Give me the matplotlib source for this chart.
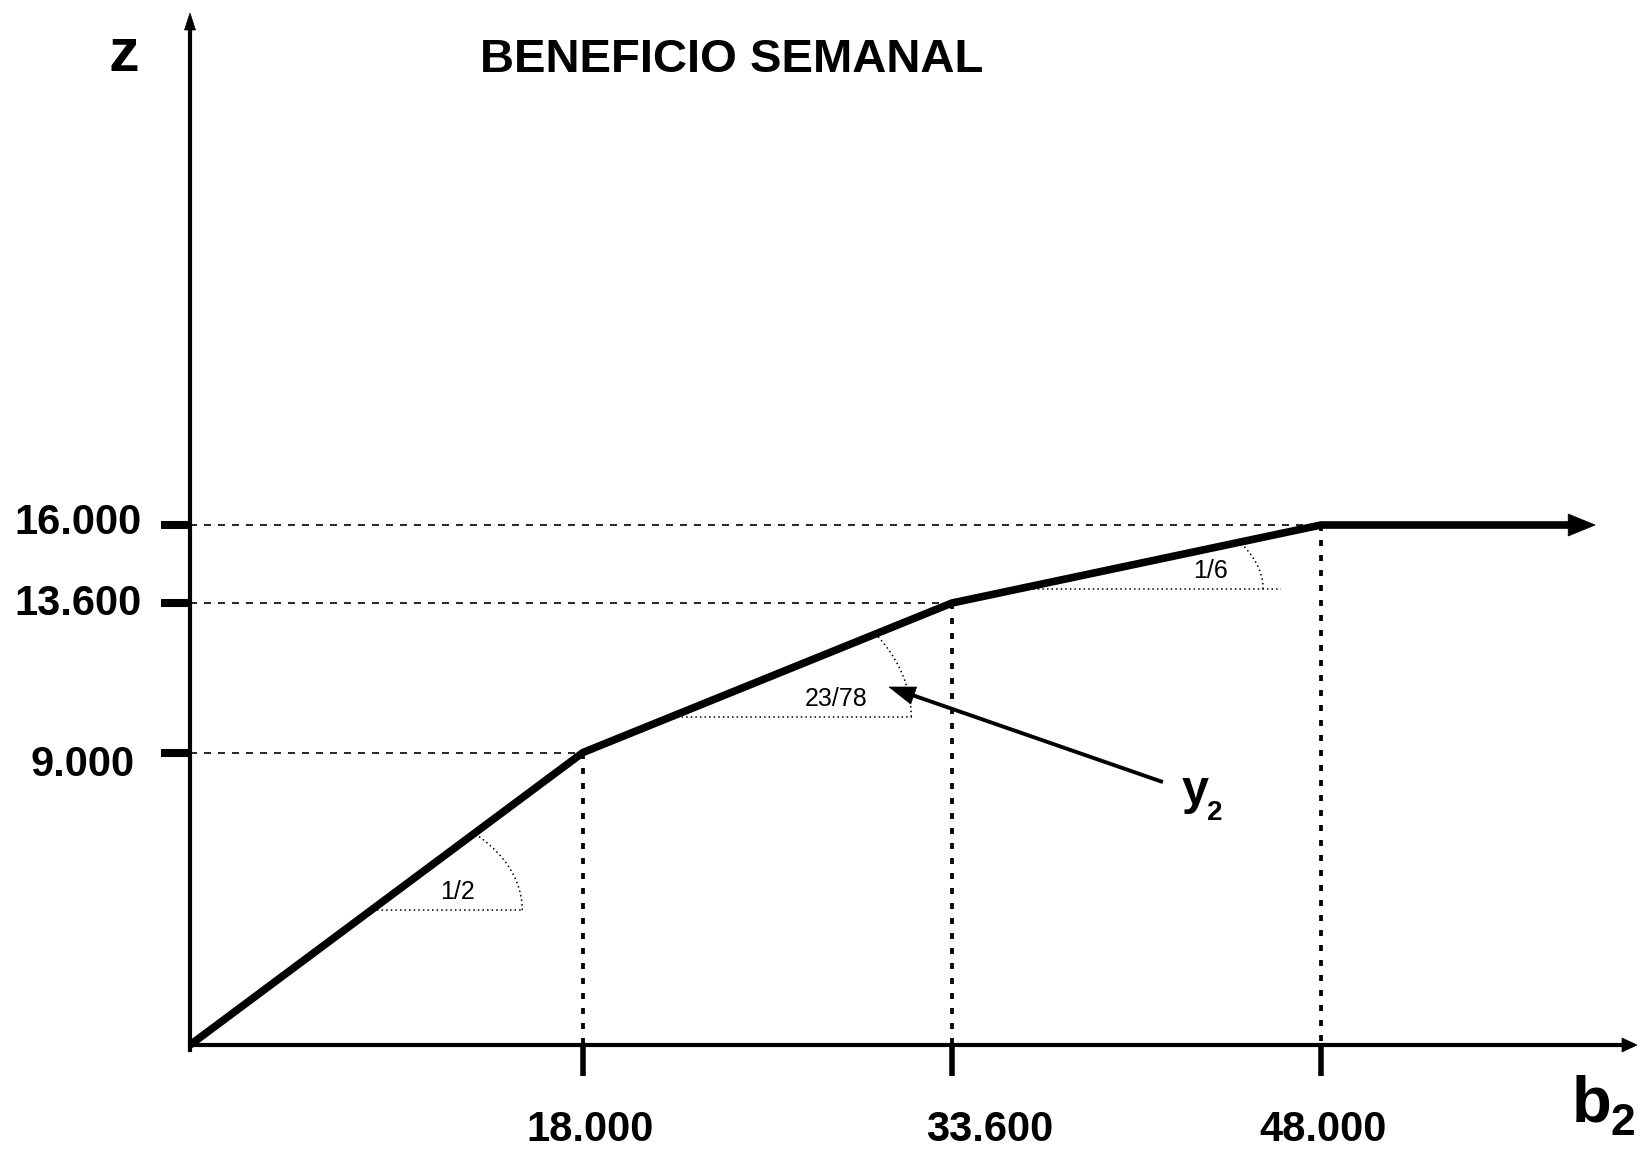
import numpy as np
import matplotlib.pyplot as plt
from matplotlib.patches import Polygon
from matplotlib.transforms import IdentityTransform, offset_copy

plt.rcParams['font.family'] = ['Liberation Sans', 'DejaVu Sans']

# Piecewise weekly profit z as a function of b2
b2_breaks = [0, 18000, 33600, 48000]
z_breaks = [0, 9000, 13600, 16000]
b2_end = 58700
slope_labels = ['1/2', '23/78', '1/6']
x_tick_labels = ['18.000', '33.600', '48.000']
y_tick_labels = ['9.000', '13.600', '16.000']

# canvas layout (pixels)
W, H = 1648, 1152
OX, OY = 190, 1045                 # origin, measured from the top-left corner
X_PX = [0, 393, 762, 1131]         # horizontal distance of each break from the origin
Y_PX_PER_UNIT = 0.0325

kx = np.array([-20000.0] + b2_breaks + [90000.0])
s0 = X_PX[1] / b2_breaks[1]
s1 = (X_PX[3] - X_PX[2]) / (b2_breaks[3] - b2_breaks[2])
kp = np.array([-20000 * s0] + X_PX + [X_PX[3] + (90000 - b2_breaks[3]) * s1])


def fwd(x):
    return np.interp(np.asarray(x, dtype=float), kx, kp)


def inv(p):
    return np.interp(np.asarray(p, dtype=float), kp, kx)


fig = plt.figure(figsize=(W / 100, H / 100), dpi=100)
ax = fig.add_axes([0, 0, 1, 1])
ax.set_xscale('function', functions=(fwd, inv))
ax.set_xlim(float(inv(-OX)), float(inv(W - OX)))
ax.set_ylim(-(H - OY) / Y_PX_PER_UNIT, OY / Y_PX_PER_UNIT)
ax.set_autoscale_on(False)


def px_to_data(px, py):
    return ax.transData.inverted().transform((px, H - py))


def head(tip, tail, length, half):
    """Filled arrow head at tip (data coords); returns where the shaft should stop."""
    t = ax.transData.transform(tip)
    b = ax.transData.transform(tail)
    d = (t - b) / np.hypot(*(t - b))
    n = np.array([-d[1], d[0]])
    base = t - d * length
    ax.add_patch(Polygon([t, base + n * half, base - n * half], closed=True,
                         fc='black', ec='black', lw=0.5,
                         transform=IdentityTransform(), clip_on=False))
    return ax.transData.inverted().transform(base + d * 2)


# axes with arrows
for s in ['top', 'right']:
    ax.spines[s].set_visible(False)
ax.spines['left'].set_position(('data', 0))
ax.spines['bottom'].set_position(('data', 0))
ax.spines['left'].set_linewidth(3)
ax.spines['bottom'].set_linewidth(3)

y_tip = px_to_data(OX, 13)
y_stop = head((0, y_tip[1]), (0, 0), 17, 5.5)
ax.spines['left'].set_bounds(-150, y_stop[1])
x_tip = px_to_data(1637, OY)
x_stop = head((x_tip[0], 0), (0, 0), 15, 7)
ax.spines['bottom'].set_bounds(0, x_stop[0])

ax.set_xticks(b2_breaks[1:])
ax.set_yticks(z_breaks[1:])
ax.tick_params(axis='x', direction='out', length=22, width=4, labelbottom=False)
ax.tick_params(axis='y', direction='out', length=21, width=5.8, labelleft=False)

# reference lines to each break
for bx, bz in zip(b2_breaks[1:], z_breaks[1:]):
    ax.plot([0, bx], [bz, bz], color='black', lw=1.2, ls=(0, (4.2, 4.2)))
    ax.plot([bx, bx], [bz, 0], color='black', lw=2.7, ls=(0, (1.6, 2.4)))

# the profit curve
stop = head((b2_end, z_breaks[-1]), (b2_breaks[-1], z_breaks[-1]), 27, 11)
ax.plot(b2_breaks + [stop[0]], z_breaks + [z_breaks[-1]], color='black',
        lw=5.5, solid_joinstyle='miter', solid_capstyle='butt', clip_on=False)

# slope markers on each rising segment
levels = [4150, 10100, 14030]
arc_a = [151, 240, 245]
arc_b = [105, 158, 110]
line_extra = [0, 1, 18]
label_dx = [86, 165, 192]
dot = dict(color='black', lw=1.1, ls=(0, (1, 2)))
for i, lab in enumerate(slope_labels):
    x0, x1 = b2_breaks[i], b2_breaks[i + 1]
    z0, z1 = z_breaks[i], z_breaks[i + 1]
    xi = x0 + (levels[i] - z0) / (z1 - z0) * (x1 - x0)
    c = ax.transData.transform((xi, levels[i]))
    p1 = ax.transData.transform((x1, z1))
    theta = np.arctan2(p1[1] - c[1], p1[0] - c[0])
    a, b = arc_a[i], arc_b[i]
    t_end = np.arctan(a / b * np.tan(theta))
    t = np.linspace(0, t_end, 60)
    ax.plot(c[0] + a * np.cos(t), c[1] + b * np.sin(t),
            transform=IdentityTransform(), **dot)
    ax.plot([c[0] + 6, c[0] + a + line_extra[i]], [c[1], c[1]],
            transform=IdentityTransform(), **dot)
    ax.text(c[0] + label_dx[i], c[1] + 11, lab, transform=IdentityTransform(),
            ha='center', va='baseline', fontsize=18)

# tick labels
x_label_dx = [7, 38, 2]
for bx, lab, dx in zip(b2_breaks[1:], x_tick_labels, x_label_dx):
    ax.text(bx, 0, lab, ha='center', va='baseline', fontsize=30, fontweight='bold',
            transform=offset_copy(ax.transData, fig, x=dx, y=-96, units='dots'))
y_label_off = [(-55, -24), (-48, -12), (-48, -9)]
for bz, lab, (dx, dy) in zip(z_breaks[1:], y_tick_labels, y_label_off):
    ax.text(0, bz, lab, ha='right', va='baseline', fontsize=30, fontweight='bold',
            transform=offset_copy(ax.transData, fig, x=dx, y=dy, units='dots'))

# y2 pointer
tip = (30940, 11015)
tail = (41830, 8090)
stop = head(tip, tail, 26, 9)
ax.plot([tail[0], stop[0]], [tail[1], stop[1]], color='black', lw=2.8,
        solid_capstyle='butt')
ax.text(tail[0], tail[1], 'y', ha='left', va='baseline', fontsize=35, fontweight='bold',
        transform=offset_copy(ax.transData, fig, x=19, y=-22, units='dots'))
ax.text(tail[0], tail[1], '2', ha='left', va='baseline', fontsize=20, fontweight='bold',
        transform=offset_copy(ax.transData, fig, x=44, y=-38, units='dots'))

# axis names and title
fig.text(124 / W, 1 - 71 / H, 'z', ha='center', va='baseline', fontsize=44, fontweight='bold')
fig.text(1572 / W, 1 - 1122 / H, 'b', ha='left', va='baseline', fontsize=47, fontweight='bold')
fig.text(1611 / W, 1 - 1135 / H, '2', ha='left', va='baseline', fontsize=32, fontweight='bold')
fig.text(732 / W, 1 - 72 / H, 'BENEFICIO SEMANAL', ha='center', va='baseline',
         fontsize=34, fontweight='bold')

fig.savefig('out.png', dpi=100)
